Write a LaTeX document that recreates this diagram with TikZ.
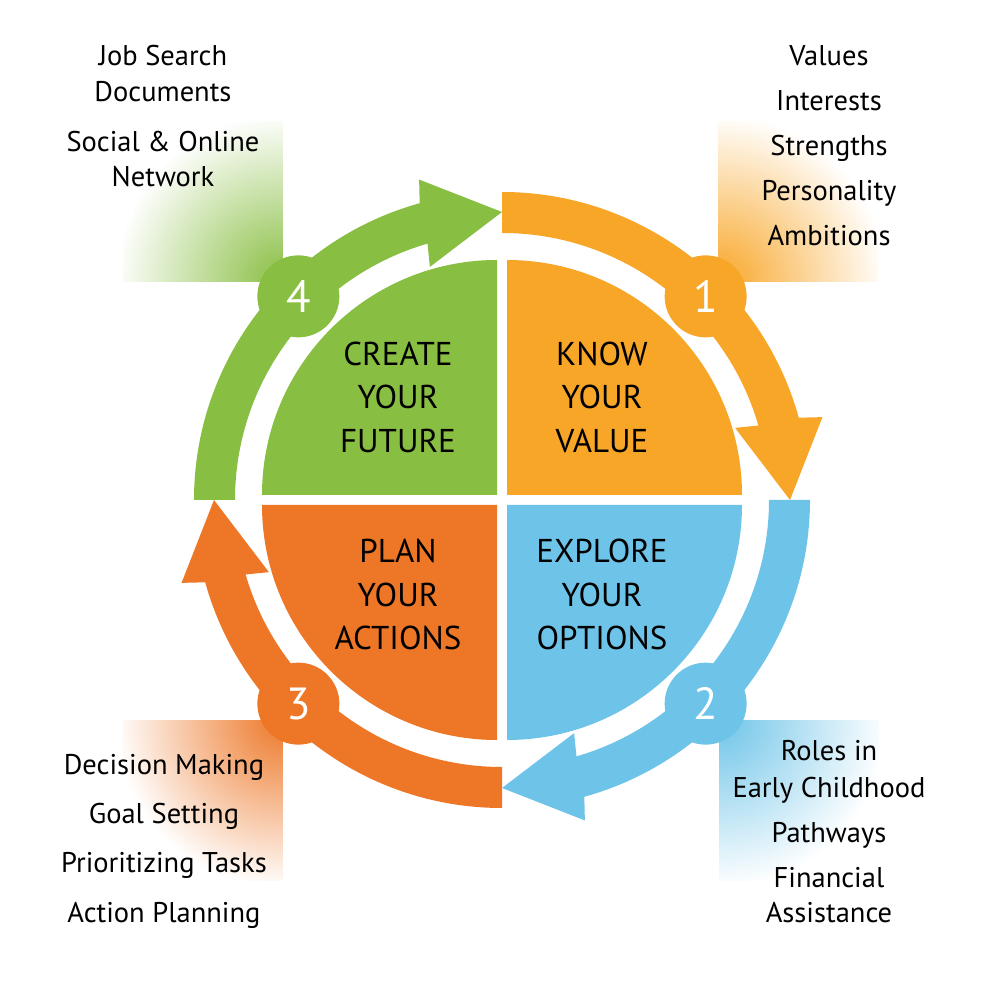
\documentclass[tikz,border=0pt]{standalone}
\usepackage{fontspec}
\setmainfont{PT Sans}
\definecolor{kyorange}{HTML}{F8A628}
\definecolor{kyblue}{HTML}{6EC4E8}
\definecolor{kyrust}{HTML}{ED7727}
\definecolor{kygreen}{HTML}{88BE42}
\tikzset{
  sidetext/.style={anchor=base, font=\fontsize{28.5}{36}\selectfont},
  bigtext/.style={align=center, font=\fontsize{33}{43.5}\selectfont},
  numtext/.style={text=white, font=\fontsize{45}{45}\selectfont},
}
\begin{document}
\begin{tikzpicture}[x=1pt,y=1pt]
\useasboundingbox (-502,-500) rectangle (498,500);
% fading boxes behind the lists
\foreach \bx/\by/\sx/\sy/\col in {216/218/1/1/kyorange, 217/-220/1/-1/kyblue, -219/-220/-1/-1/kyrust, -219/218/-1/1/kygreen}{
  \begin{scope}
    \clip (\bx,\by) rectangle ++(160*\sx,160*\sy);
    \shade[inner color=\col, outer color=white] (\bx,\by) circle (168);
  \end{scope}
}
% quarters, ring arrows and step numbers
\foreach \r/\col/\num in {0/kyorange/1, -90/kyblue/2, -180/kyrust/3, 90/kygreen/4}{
  \begin{scope}[rotate=\r]
    \fill[\col] (5,5) -- (5,240) arc[start angle=90, end angle=0, radius=235] -- cycle;
    \fill[\col] (90:308) arc[start angle=90, end angle=15.5, radius=308] -- (14.5:331) -- (0:288)
      -- (17.2:244) -- (16.2:267) arc[start angle=16.2, end angle=90, radius=267] -- cycle;
    \fill[\col] (45:288) circle (41);
    \node[numtext] (step\num) at (45:288) {\num};
  \end{scope}
}
\node[bigtext] (know) at (100,103) {KNOW\\YOUR\\VALUE};
\node[bigtext] (explore) at (100,-94.5) {EXPLORE\\YOUR\\OPTIONS};
\node[bigtext] (plan) at (-104,-94.5) {PLAN\\YOUR\\ACTIONS};
\node[bigtext] (create) at (-104,103) {CREATE\\YOUR\\FUTURE};
% lists
\foreach \t/\y [count=\i] in {Values/434, Interests/389, Strengths/344, Personality/299, Ambitions/254}
  \node[sidetext] (know\i) at (327,\y) {\t};
\foreach \t/\y [count=\i] in {Roles in/-260, Early Childhood/-297, Pathways/-342, Financial/-387, Assistance/-422}
  \node[sidetext] (explore\i) at (327,\y) {\t};
\foreach \t/\y [count=\i] in {Decision Making/-274, Goal Setting/-323, Prioritizing Tasks/-372, Action Planning/-422}
  \node[sidetext] (plan\i) at (-338,\y) {\t};
\foreach \t/\y [count=\i] in {Job Search/434, Documents/398, Social \& Online/348, Network/313}
  \node[sidetext] (create\i) at (-339,\y) {\t};
\end{tikzpicture}
\end{document}
